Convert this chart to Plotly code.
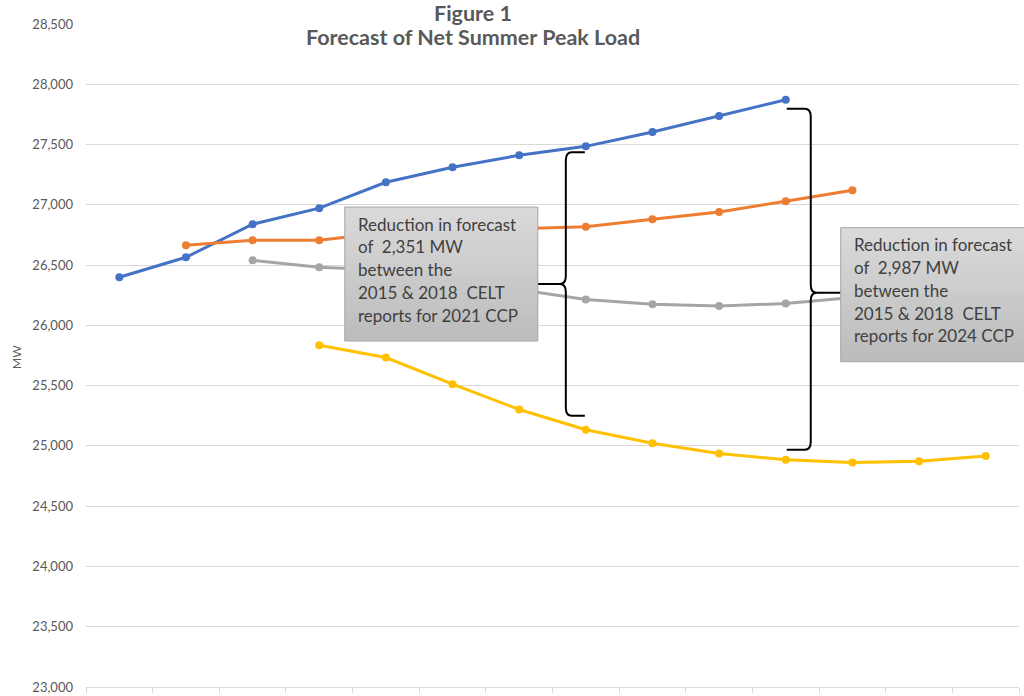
import plotly.graph_objects as go

# Forecast years shown on the horizontal axis
years = list(range(2014, 2028))

# Net summer peak load forecasts (MW) from successive CELT reports
celt_2015_years = list(range(2014, 2025))
celt_2015 = [26399, 26565, 26839, 26972, 27187, 27312, 27411, 27485, 27604, 27737, 27872]

celt_2016_years = list(range(2015, 2026))
celt_2016 = [26665, 26706, 26706, 26770, 26785, 26800, 26819, 26880, 26941, 27030, 27121]

celt_2017_years = list(range(2016, 2027))
celt_2017 = [26540, 26482, 26460, 26380, 26300, 26214, 26175, 26161, 26181, 26230, 26280]

celt_2018_years = list(range(2017, 2028))
celt_2018 = [25835, 25733, 25512, 25302, 25134, 25022, 24937, 24885, 24862, 24873, 24917]

series_names = ["2015 CELT", "2016 CELT", "2017 CELT", "2018 CELT"]
series_colors = ["#4472C4", "#ED7D31", "#A5A5A5", "#FFC000"]

y_ticks = list(range(23000, 28501, 500))

# Capacity commitment periods highlighted with braces
ccp_years = [2021, 2024]

W, H = 1024, 696
M_L, M_R, M_T, M_B = 86, 5, 24, 9
PLOT_W = W - M_L - M_R
PLOT_H = H - M_T - M_B
X_MIN, X_MAX = years[0] - 0.5, years[-1] + 0.5
Y_MIN, Y_MAX = y_ticks[0], y_ticks[-1]
MW_PER_PX = (Y_MAX - Y_MIN) / PLOT_H
YR_PER_PX = (X_MAX - X_MIN) / PLOT_W


def px_x(year):
    return (year - X_MIN) / (X_MAX - X_MIN)


fig = go.Figure()

all_years = [celt_2015_years, celt_2016_years, celt_2017_years, celt_2018_years]
all_vals = [celt_2015, celt_2016, celt_2017, celt_2018]
for name, color, xs, ys in zip(series_names, series_colors, all_years, all_vals):
    fig.add_trace(go.Scatter(
        x=xs, y=ys, name=name, mode="lines+markers",
        line=dict(color=color, width=3),
        marker=dict(color=color, size=8),
        hoverinfo="x+y+name",
    ))


def value_at(xs, ys, yr):
    return ys[xs.index(yr)]


def brace_path(x_end, x_vert, x_tip, y_top, y_mid, y_bot):
    s = 1 if x_end > x_vert else -1
    rx = 6 * YR_PER_PX
    ry = 8 * MW_PER_PX
    p = []
    p.append(f"M {x_end},{y_top}")
    p.append(f"L {x_vert + s*rx},{y_top}")
    p.append(f"Q {x_vert},{y_top} {x_vert},{y_top - ry}")
    p.append(f"L {x_vert},{y_mid + ry}")
    p.append(f"Q {x_vert},{y_mid} {x_vert - s*rx},{y_mid}")
    p.append(f"L {x_tip},{y_mid}")
    p.append(f"M {x_vert - s*rx},{y_mid}")
    p.append(f"Q {x_vert},{y_mid} {x_vert},{y_mid - ry}")
    p.append(f"L {x_vert},{y_bot + ry}")
    p.append(f"Q {x_vert},{y_bot} {x_vert + s*rx},{y_bot}")
    p.append(f"L {x_end},{y_bot}")
    return " ".join(p)


def gradient_box(x0, x1, y_top, y_bot, n=28):
    top_rgb = (0xDA, 0xDA, 0xDA)
    bot_rgb = (0xBC, 0xBC, 0xBC)
    mid = tuple(round((a + b) / 2) for a, b in zip(top_rgb, bot_rgb))
    # opaque base so nothing underneath shows through the strip seams
    fig.add_shape(type="rect", xref="paper", yref="y", layer="above",
                  x0=x0, x1=x1, y0=y_bot, y1=y_top,
                  line=dict(width=0), fillcolor=f"rgb{mid}", opacity=1)
    step = (y_top - y_bot) / n
    pad = 0.6 * MW_PER_PX
    for i in range(n):
        t = i / (n - 1)
        c = tuple(round(a + (b - a) * t) for a, b in zip(top_rgb, bot_rgb))
        y1 = y_top - i * step
        y0 = y_top - (i + 1) * step
        fig.add_shape(type="rect", xref="paper", yref="y", layer="above",
                      x0=x0, x1=x1, y0=max(y0 - pad, y_bot), y1=min(y1 + pad, y_top),
                      line=dict(width=0), fillcolor=f"rgb{c}", opacity=1)
    fig.add_shape(type="rect", xref="paper", yref="y", layer="above",
                  x0=x0, x1=x1, y0=y_bot, y1=y_top,
                  line=dict(color="#A6A6A6", width=1), fillcolor="rgba(0,0,0,0)")


def box_text(x_left, y_top, lines):
    for i, txt in enumerate(lines):
        fig.add_annotation(
            text=txt, xref="paper", yref="y", x=x_left, y=y_top,
            xanchor="left", yanchor="middle", showarrow=False,
            yshift=-(17 + 22.8 * i),
            font=dict(family="Lato", size=17, color="#404040"),
        )


# Brace and note for the 2021 CCP (brace opens right, note sits to its left)
yr = ccp_years[0]
hi = value_at(celt_2015_years, celt_2015, yr)
lo = value_at(celt_2018_years, celt_2018, yr)
drop_1 = hi - lo
b1_top, b1_bot = hi - 6 * MW_PER_PX, lo + 14 * MW_PER_PX
b1_mid = (b1_top + b1_bot) / 2
b1_vert = yr - 20 * YR_PER_PX
b1_tip = yr - 48 * YR_PER_PX
fig.add_shape(type="path", xref="x", yref="y", layer="above",
              path=brace_path(yr - 1 * YR_PER_PX, b1_vert, b1_tip, b1_top, b1_mid, b1_bot),
              line=dict(color="#000000", width=2))
box1_top = b1_mid + 77 * MW_PER_PX
box1_bot = b1_mid - 57 * MW_PER_PX
box1_x1 = px_x(b1_tip)
box1_x0 = box1_x1 - 193 / PLOT_W
gradient_box(box1_x0, box1_x1, box1_top, box1_bot)
box_text(box1_x0 + 11 / PLOT_W, box1_top, [
    "Reduction in forecast",
    f"of  {drop_1:,} MW",
    "between the",
    "2015 & 2018  CELT",
    f"reports for {yr} CCP",
])

# Brace and note for the 2024 CCP (brace opens left, note sits to its right)
yr = ccp_years[1]
hi = value_at(celt_2015_years, celt_2015, yr)
lo = value_at(celt_2018_years, celt_2018, yr)
drop_2 = hi - lo
b2_top, b2_bot = hi - 9 * MW_PER_PX, lo + 10 * MW_PER_PX
b2_mid = b2_top - 184 * MW_PER_PX
b2_vert = yr + 25 * YR_PER_PX
b2_tip = yr + 55 * YR_PER_PX
fig.add_shape(type="path", xref="x", yref="y", layer="above",
              path=brace_path(yr + 1 * YR_PER_PX, b2_vert, b2_tip, b2_top, b2_mid, b2_bot),
              line=dict(color="#000000", width=2))
box2_top = b2_mid + 65 * MW_PER_PX
box2_bot = b2_mid - 69 * MW_PER_PX
box2_x0 = px_x(b2_tip)
box2_x1 = box2_x0 + 200 / PLOT_W
gradient_box(box2_x0, box2_x1, box2_top, box2_bot)
box_text(box2_x0 + 11 / PLOT_W, box2_top, [
    "Reduction in forecast",
    f"of  {drop_2:,} MW",
    "between the",
    "2015 & 2018  CELT",
    f"reports for {yr} CCP",
])

# Two-line chart title
title_x = (473 - M_L) / PLOT_W
fig.add_annotation(text="<b>Figure 1</b>", xref="paper", yref="paper",
                   x=title_x, y=1 + 11 / PLOT_H, xanchor="center", yanchor="middle",
                   showarrow=False, font=dict(family="Lato", size=21.5, color="#595959"))
fig.add_annotation(text="<b>Forecast of Net Summer Peak Load</b>", xref="paper", yref="paper",
                   x=title_x, y=1 - 13 / PLOT_H, xanchor="center", yanchor="middle",
                   showarrow=False, font=dict(family="Lato", size=21.5, color="#595959"))

# Vertical axis title
fig.add_annotation(text="MW", xref="paper", yref="paper",
                   x=(16 - M_L) / PLOT_W, y=(H - M_B - 357) / PLOT_H,
                   xanchor="center", yanchor="middle", textangle=-90,
                   showarrow=False, font=dict(family="Lato", size=12, color="#595959"))

fig.update_xaxes(
    range=[X_MIN, X_MAX], tickvals=[y - 0.5 for y in years] + [years[-1] + 0.5],
    ticks="outside", ticklen=5, tickcolor="#D9D9D9", showticklabels=False,
    showgrid=False, zeroline=False, showline=True, linecolor="#D9D9D9", linewidth=1,
)
fig.update_yaxes(
    range=[Y_MIN, Y_MAX], tickvals=y_ticks, tickformat=",",
    showgrid=True, gridcolor="#D9D9D9", gridwidth=1, zeroline=False, showline=False,
    ticks="", ticklabelstandoff=12,
    tickfont=dict(family="Lato", size=13, color="#595959"),
)
fig.update_layout(
    width=W, height=H,
    margin=dict(l=M_L, r=M_R, t=M_T, b=M_B, autoexpand=False),
    paper_bgcolor="white", plot_bgcolor="white",
    showlegend=False,
)

fig.write_html("out.html")
